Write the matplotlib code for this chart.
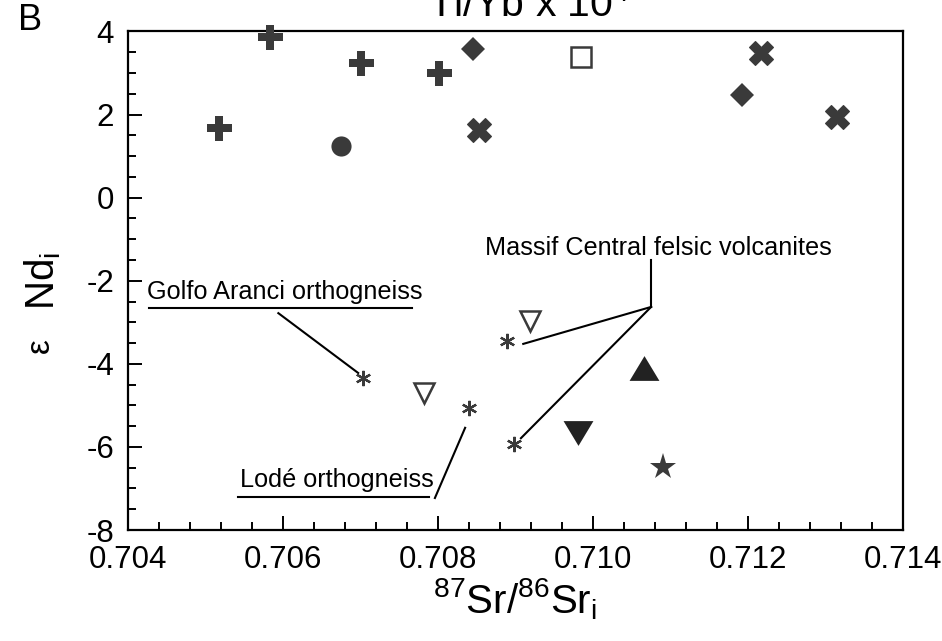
import numpy as np
import matplotlib
matplotlib.use('Agg')
import matplotlib.pyplot as plt

plt.rcParams['font.family'] = ['Liberation Sans', 'DejaVu Sans']
plt.rcParams['mathtext.fontset'] = 'custom'
plt.rcParams['mathtext.rm'] = 'Liberation Sans'
plt.rcParams['mathtext.it'] = 'Liberation Sans:italic'
plt.rcParams['axes.unicode_minus'] = False

# data (87Sr/86Sr_i, eps Nd_i)
plus_x = [0.70583, 0.70701, 0.70801, 0.70517]
plus_y = [3.86, 3.25, 3.00, 1.68]
circle_x = [0.70675]
circle_y = [1.24]
diamond_x = [0.70845, 0.71192]
diamond_y = [3.58, 2.47]
cross_x = [0.70853, 0.71217, 0.71315]
cross_y = [1.63, 3.48, 1.95]
square_x = [0.70985]
square_y = [3.39]
opentri_x = [0.70782, 0.70919]
opentri_y = [-4.70, -2.97]
aster_x = [0.70703, 0.70840, 0.70889, 0.70898]
aster_y = [-4.34, -5.06, -3.45, -5.93]
tridown_x = [0.70981]
tridown_y = [-5.66]
triup_x = [0.71066]
triup_y = [-4.10]
star_x = [0.71090]
star_y = [-6.48]

xticks = [0.704, 0.706, 0.708, 0.710, 0.712, 0.714]
xticklabels = ['0.704', '0.706', '0.708', '0.710', '0.712', '0.714']
yticks = [-8, -6, -4, -2, 0, 2, 4]

# label annotations: text, text position, underline, leader lines
golfo_text = 'Golfo Aranci orthogneiss'
golfo_pos = (0.70425, -2.27)
golfo_under = ([0.70427, 0.70766], [-2.66, -2.66])
golfo_lead = ([0.70594, 0.70697], [-2.78, -4.22])

lode_text = 'Lodé orthogneiss'
lode_pos = (0.70545, -6.80)
lode_under = ([0.70542, 0.70788], [-7.21, -7.21])
lode_lead = ([0.70796, 0.70835], [-7.23, -5.54])

massif_text = 'Massif Central felsic volcanites'
massif_pos = (0.70861, -1.21)
massif_lead = [([0.71075, 0.71075], [-1.50, -2.63]),
               ([0.71075, 0.70910], [-2.63, -3.52]),
               ([0.71075, 0.70907], [-2.63, -5.79])]

dark = '#3a3a3a'

fig = plt.figure(figsize=(9.42, 6.41), dpi=100)
ax = fig.add_axes([128/942, 1-530/641, (903-128)/942, (530-31.5)/641])

kw = dict(linestyle='none', clip_on=False, zorder=3)
ax.plot(plus_x, plus_y, marker='P', ms=18, color=dark, mec=dark, mew=0, **kw)
ax.plot(circle_x, circle_y, marker='o', ms=14.5, color=dark, mec=dark, mew=0, **kw)
ax.plot(diamond_x, diamond_y, marker='D', ms=12, color=dark, mec=dark, mew=0, **kw)
ax.plot(cross_x, cross_y, marker='X', ms=17, color=dark, mec=dark, mew=0.8, **kw)
ax.plot(square_x, square_y, marker='s', ms=14.5, mfc='white', mec=dark, mew=1.8, **kw)
ax.plot(opentri_x, opentri_y, marker='v', ms=15, mfc='white', mec=dark, mew=1.8, **kw)
ax.plot(aster_x, aster_y, marker=(6, 2, 0), ms=11, color=dark, mec=dark, mew=1.6, **kw)
tri_dn = [(-1, 0.83), (1, 0.83), (0, -0.83)]
tri_up = [(-1, -0.83), (1, -0.83), (0, 0.83)]
ax.plot(tridown_x, tridown_y, marker=tri_dn, ms=21.5, color='#222222', mew=0, **kw)
ax.plot(triup_x, triup_y, marker=tri_up, ms=21.5, color='#222222', mew=0, **kw)
ax.plot(star_x, star_y, marker='*', ms=20, color=dark, mec=dark, mew=0, **kw)

# annotations
lkw = dict(color='black', lw=1.5, zorder=2)
fs_note = 18.2
ax.text(golfo_pos[0], golfo_pos[1], golfo_text, fontsize=fs_note, va='center', ha='left')
ax.plot(*golfo_under, **lkw)
ax.plot(*golfo_lead, **lkw)
ax.text(lode_pos[0], lode_pos[1], lode_text, fontsize=fs_note, va='center', ha='left')
ax.plot(*lode_under, **lkw)
ax.plot(*lode_lead, **lkw)
ax.text(massif_pos[0], massif_pos[1], massif_text, fontsize=fs_note, va='center', ha='left')
for lx, ly in massif_lead:
    ax.plot(lx, ly, **lkw)

ax.set_xlim(0.704, 0.714)
ax.set_ylim(-8, 4)
ax.set_xticks(xticks)
ax.set_xticklabels(xticklabels)
ax.set_xticks(np.arange(0.704, 0.7140001, 0.0004), minor=True)
ax.set_yticks(yticks)
ax.set_yticks(np.arange(-8, 4.01, 0.5), minor=True)
ax.tick_params(which='both', direction='in', top=False, right=False, width=1.4, labelsize=22.5)
ax.tick_params(which='major', length=10)
ax.tick_params(which='minor', length=6)
ax.tick_params(axis='y', pad=10)
ax.tick_params(axis='x', pad=11)
for s in ax.spines.values():
    s.set_linewidth(1.6)

ax.set_xlabel(r'$^{87}$Sr/$^{86}$Sr$_\mathregular{i}$', fontsize=29, labelpad=1)
ax.set_ylabel(r'Nd$_\mathregular{i}$', fontsize=29)
ax.yaxis.set_label_coords(-0.084, 0.50)
ax.text(-0.113, 0.37, '\u03b5', rotation=90, fontsize=24, transform=ax.transAxes,
        ha='center', va='center', clip_on=False)

fig.text(30/942, 1-20/641, 'B', fontsize=26, ha='center', va='center')
fig.text(529/942, 1-17/641, r'Ti/Yb x 10$^{4}$', fontsize=29.5, ha='center', va='baseline')

fig.savefig('out.png', dpi=100)
